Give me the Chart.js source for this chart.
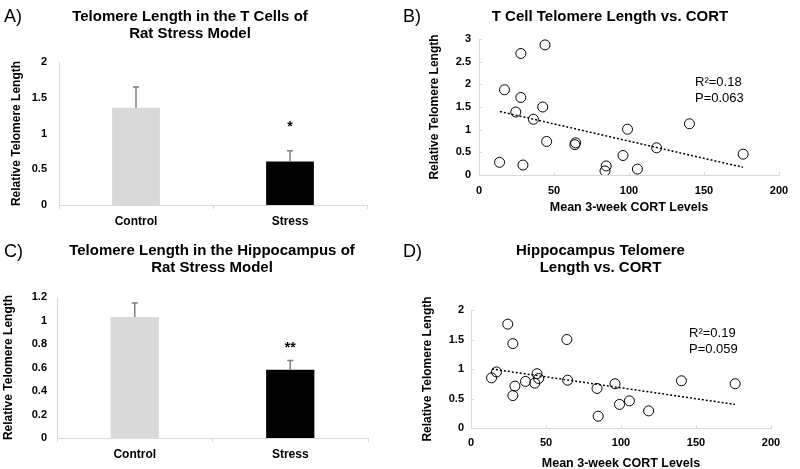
<!DOCTYPE html>
<html>
<head>
<meta charset="utf-8">
<script src="https://cdn.jsdelivr.net/npm/chart.js@4/dist/chart.umd.min.js"></script>
<style>
  html, body { margin: 0; padding: 0; background: #fff; overflow: hidden; }
  #wrap { position: relative; width: 800px; height: 469px; }
  canvas { position: absolute; }
</style>
</head>
<body>
<div id="wrap">
  <canvas id="chartA" width="400" height="235" style="left:0;top:0"></canvas>
  <canvas id="chartB" width="400" height="235" style="left:400px;top:0"></canvas>
  <canvas id="chartC" width="400" height="240" style="left:0;top:235px"></canvas>
  <canvas id="chartD" width="400" height="240" style="left:400px;top:235px"></canvas>
</div>
<script>
// data
var groups = ["Control", "Stress"];
var tcellMean = [1.36, 0.61];
var tcellErr = [0.29, 0.15];
var hippoMean = [1.03, 0.58];
var hippoErr = [0.12, 0.08];

var cort = [13.7, 17, 24.5, 27.9, 27.9, 29.3, 36.3, 42.5, 44, 45.1, 63.9, 64.4, 84, 84.8, 96, 99, 105.6, 118.4, 140.3, 176.1];
var tcellLength = [0.28, 1.88, 1.39, 2.68, 1.71, 0.22, 1.23, 1.50, 2.87, 0.74, 0.67, 0.71, 0.09, 0.20, 0.43, 1.01, 0.13, 0.60, 1.13, 0.46];
var hippoLength = [0.85, 0.95, 1.76, 1.43, 0.55, 0.71, 0.79, 0.76, 0.92, 0.84, 1.50, 0.81, 0.67, 0.20, 0.75, 0.40, 0.46, 0.29, 0.80, 0.75];

var trendX = [14, 176];
var tcellTrend = [1.40, 0.17];
var hippoTrend = [1.00, 0.40];

var FONT = "'Liberation Sans', Arial, sans-serif";
var AXIS_GREY = "#d9d9d9";
var NUM_FONT = { family: FONT, size: 11, weight: "bold" };

function pts(xs, ys) {
    return xs.map(function (x, i) { return { x: x, y: ys[i] }; });
}

// "2" not "2.0", "1.2" stays
function plain(v) {
    return String(Math.round(v * 100) / 100);
}

// panel letter, title lines and notes drawn on top
function overlay(cfg) {
    return {
        id: "overlay",
        afterDraw: function (chart) {
            var ctx = chart.ctx;
            ctx.save();
            ctx.fillStyle = "#000";
            ctx.textBaseline = "middle";
            ctx.textAlign = "left";
            ctx.font = "18px " + FONT;
            ctx.fillText(cfg.letter, cfg.letterX, cfg.letterY);
            ctx.textAlign = "center";
            ctx.font = "bold 15px " + FONT;
            cfg.title.forEach(function (t, i) {
                ctx.fillText(t, cfg.titleX, cfg.titleY + i * 17);
            });
            if (cfg.notes) {
                ctx.textAlign = "left";
                ctx.font = "13px " + FONT;
                cfg.notes.forEach(function (t, i) {
                    ctx.fillText(t, cfg.notesX, cfg.notesY + i * 16.5);
                });
            }
            ctx.restore();
        }
    };
}

// small inside tick marks like the excel scatter axes
var innerTicks = {
    id: "innerTicks",
    afterDraw: function (chart) {
        var ctx = chart.ctx;
        var a = chart.chartArea;
        ctx.save();
        ctx.strokeStyle = AXIS_GREY;
        ctx.lineWidth = 1;
        ctx.beginPath();
        chart.scales.x.ticks.forEach(function (t) {
            var px = Math.round(chart.scales.x.getPixelForValue(t.value)) + 0.5;
            ctx.moveTo(px, a.bottom);
            ctx.lineTo(px, a.bottom - 3);
        });
        chart.scales.y.ticks.forEach(function (t) {
            var py = Math.round(chart.scales.y.getPixelForValue(t.value)) + 0.5;
            ctx.moveTo(a.left, py);
            ctx.lineTo(a.left + 3, py);
        });
        ctx.stroke();
        ctx.restore();
    }
};

function errorBars(errs, star) {
    return {
        id: "errorBars",
        afterDatasetsDraw: function (chart) {
            var ctx = chart.ctx;
            var y = chart.scales.y;
            var meta = chart.getDatasetMeta(0);
            var data = chart.data.datasets[0].data;
            ctx.save();
            ctx.strokeStyle = "#7f7f7f";
            ctx.lineWidth = 1.5;
            meta.data.forEach(function (bar, i) {
                var top = y.getPixelForValue(data[i] + errs[i]);
                var base = y.getPixelForValue(data[i]);
                ctx.beginPath();
                ctx.moveTo(bar.x, base);
                ctx.lineTo(bar.x, top);
                ctx.moveTo(bar.x - 3, top);
                ctx.lineTo(bar.x + 3, top);
                ctx.stroke();
            });
            var sb = meta.data[1];
            ctx.fillStyle = "#000";
            ctx.font = "bold 14px " + FONT;
            ctx.textAlign = "center";
            ctx.textBaseline = "alphabetic";
            ctx.fillText(star.text, sb.x, y.getPixelForValue(star.y) + 8);
            ctx.restore();
        }
    };
}

function barChart(id, means, errs, yMax, yStep, area, yPad, titlePad, star, ov) {
    return new Chart(document.getElementById(id), {
        type: "bar",
        data: {
            labels: groups,
            datasets: [{
                data: means,
                backgroundColor: ["#d9d9d9", "#000000"],
                barPercentage: 0.31,
                categoryPercentage: 1
            }]
        },
        options: {
            responsive: false,
            animation: false,
            layout: { padding: { top: area.top, right: area.right, left: 0, bottom: 0 } },
            plugins: { legend: { display: false }, tooltip: { enabled: false } },
            scales: {
                x: {
                    grid: { drawOnChartArea: false, drawTicks: true, tickLength: 4, color: AXIS_GREY },
                    border: { color: AXIS_GREY },
                    ticks: { color: "#000", padding: area.xPad, font: { family: FONT, size: 12, weight: "bold" } },
                    afterFit: function (s) { s.height = area.xh; }
                },
                y: {
                    min: 0, max: yMax,
                    grid: { display: false, drawTicks: false },
                    border: { display: true, color: AXIS_GREY },
                    ticks: { stepSize: yStep, color: "#000", padding: yPad, callback: plain, font: NUM_FONT },
                    title: {
                        display: true, text: "Relative Telomere Length", color: "#000",
                        font: { family: FONT, size: 12, weight: "bold" },
                        padding: { top: titlePad, bottom: 0 }
                    },
                    afterFit: function (s) { s.width = area.left; }
                }
            }
        },
        plugins: [errorBars(errs, star), overlay(ov)]
    });
}

function scatterChart(id, ys, trend, yMax, area, pads, ov) {
    return new Chart(document.getElementById(id), {
        type: "scatter",
        data: {
            datasets: [{
                data: pts(cort, ys),
                pointRadius: 5,
                pointBorderWidth: 1,
                borderColor: "#000",
                backgroundColor: "rgba(0,0,0,0)"
            }, {
                data: pts(trendX, trend),
                showLine: true,
                borderColor: "#000",
                borderWidth: 1.5,
                borderDash: [2, 2],
                pointRadius: 0
            }]
        },
        options: {
            responsive: false,
            animation: false,
            layout: { padding: { top: area.top, right: area.right, left: 0, bottom: 0 } },
            plugins: { legend: { display: false }, tooltip: { enabled: false } },
            scales: {
                x: {
                    min: 0, max: 200,
                    grid: { display: false, drawTicks: false },
                    border: { display: true, color: AXIS_GREY },
                    ticks: { stepSize: 50, color: "#000", padding: pads.xTick, font: NUM_FONT },
                    title: {
                        display: true, text: "Mean 3-week CORT Levels", color: "#000",
                        font: { family: FONT, size: 12.5, weight: "bold" },
                        padding: { top: 0, bottom: pads.xTitle }
                    },
                    afterFit: function (s) { s.height = area.xh; }
                },
                y: {
                    min: 0, max: yMax,
                    grid: { display: false, drawTicks: false },
                    border: { display: true, color: AXIS_GREY },
                    ticks: { stepSize: 0.5, color: "#000", padding: pads.yTick, callback: plain, font: NUM_FONT },
                    title: {
                        display: true, text: "Relative Telomere Length", color: "#000",
                        font: { family: FONT, size: 12, weight: "bold" },
                        padding: { top: pads.yTitle, bottom: 0 }
                    },
                    afterFit: function (s) { s.width = area.left; }
                }
            }
        },
        plugins: [innerTicks, overlay(ov)]
    });
}

barChart("chartA", tcellMean, tcellErr, 2, 0.5,
    { top: 62, right: 33, left: 59, xh: 30, xPad: 5 }, 12, 9.8, { text: "*", y: 1.14 },
    { letter: "A)", letterX: 4, letterY: 17, title: ["Telomere Length in the T Cells of", "Rat Stress Model"], titleX: 190, titleY: 16.5 });

scatterChart("chartB", tcellLength, tcellTrend, 3,
    { top: 39, right: 21, left: 79, xh: 60 }, { xTick: 9, xTitle: 20, yTick: 8, yTitle: 27.8 },
    { letter: "B)", letterX: 3, letterY: 17, title: ["T Cell Telomere Length vs. CORT"], titleX: 210, titleY: 16.5,
      notes: ["R\u00b2=0.18", "P=0.063"], notesX: 295, notesY: 82 });

barChart("chartC", hippoMean, hippoErr, 1.2, 0.2,
    { top: 62, right: 32, left: 57, xh: 37, xPad: 5 }, 10, 1.3, { text: "**", y: 0.80 },
    { letter: "C)", letterX: 4, letterY: 17, title: ["Telomere Length in the Hippocampus of", "Rat Stress Model"], titleX: 212, titleY: 16 });

scatterChart("chartD", hippoLength, hippoTrend, 2,
    { top: 75, right: 29, left: 71, xh: 47 }, { xTick: 8.5, xTitle: 3.5, yTick: 7, yTitle: 20.8 },
    { letter: "D)", letterX: 3, letterY: 17, title: ["Hippocampus Telomere", "Length vs. CORT"], titleX: 200.5, titleY: 16,
      notes: ["R\u00b2=0.19", "P=0.059"], notesX: 289, notesY: 98 });
</script>
</body>
</html>
